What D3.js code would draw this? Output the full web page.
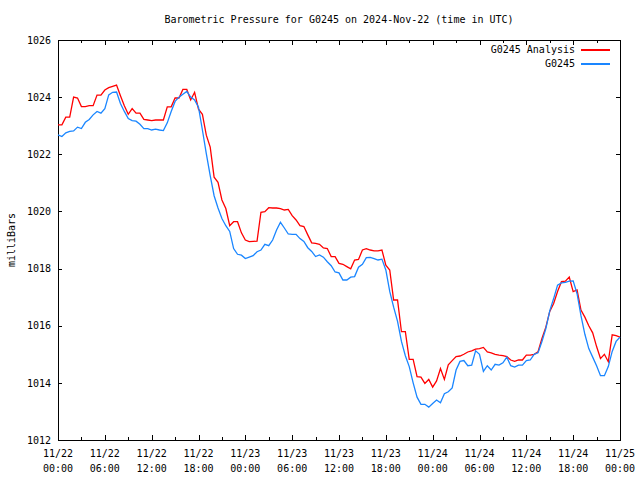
<!DOCTYPE html>
<html>
<head>
<meta charset="utf-8">
<script src="https://cdn.jsdelivr.net/npm/d3@7"></script>
<style>
  html, body { margin: 0; padding: 0; background: #fff; }
  svg text { font-family: "DejaVu Sans Mono", monospace; font-size: 10px; fill: #000; }
</style>
</head>
<body>
<svg id="chart" width="640" height="480"></svg>
<script>
// ---- data (half-hourly, starting 2024-11-22 00:00 UTC) ----
const title = "Barometric Pressure for G0245 on 2024-Nov-22 (time in UTC)";
const yLabel = "milliBars";
const seriesNames = ["G0245 Analysis", "G0245"];
const seriesColors = ["#ff0000", "#1a86ff"];
const startTime = Date.UTC(2024, 10, 22, 0, 0);
const stepMinutes = 30;

const analysis = [
  1023.03,1023.03,1023.30,1023.30,1024.00,1023.97,1023.67,1023.67,1023.70,1023.70,
  1024.07,1024.07,1024.25,1024.33,1024.38,1024.42,1024.05,1023.70,1023.40,1023.60,
  1023.44,1023.44,1023.22,1023.20,1023.18,1023.20,1023.20,1023.20,1023.66,1023.66,
  1023.97,1023.97,1024.27,1024.27,1023.90,1024.17,1023.58,1023.40,1022.67,1022.25,
  1021.20,1021.02,1020.40,1020.10,1019.50,1019.64,1019.64,1019.25,1019.00,1018.94,
  1018.95,1018.96,1019.97,1019.99,1020.13,1020.12,1020.12,1020.10,1020.05,1020.07,
  1019.85,1019.70,1019.50,1019.47,1019.18,1018.90,1018.88,1018.85,1018.72,1018.70,
  1018.42,1018.42,1018.18,1018.15,1018.07,1017.99,1018.30,1018.32,1018.65,1018.70,
  1018.65,1018.62,1018.62,1018.65,1018.12,1017.95,1016.90,1016.90,1015.79,1015.79,
  1014.82,1014.82,1014.22,1014.20,1013.98,1014.12,1013.85,1014.07,1014.50,1014.12,
  1014.63,1014.78,1014.92,1014.94,1015.00,1015.08,1015.12,1015.18,1015.20,1015.24,
  1015.08,1015.05,1015.00,1014.97,1014.95,1014.92,1014.80,1014.75,1014.80,1014.80,
  1014.97,1014.97,1015.00,1015.09,1015.55,1015.95,1016.50,1016.78,1017.20,1017.54,
  1017.56,1017.70,1017.19,1017.25,1016.55,1016.30,1016.00,1015.75,1015.27,1014.85,
  1015.00,1014.74,1015.68,1015.65,1015.60
];

const observed = [
  1022.68,1022.62,1022.75,1022.80,1022.82,1022.95,1022.90,1023.12,1023.22,1023.38,
  1023.50,1023.44,1023.60,1024.08,1024.17,1024.18,1023.78,1023.50,1023.25,1023.18,
  1023.16,1023.05,1022.90,1022.90,1022.85,1022.88,1022.85,1022.83,1023.10,1023.50,
  1023.85,1024.00,1024.10,1024.20,1024.00,1023.90,1023.65,1022.85,1022.02,1021.25,
  1020.55,1020.12,1019.75,1019.50,1019.30,1018.70,1018.50,1018.47,1018.35,1018.40,
  1018.45,1018.59,1018.65,1018.85,1018.80,1019.00,1019.35,1019.62,1019.42,1019.21,
  1019.20,1019.20,1019.05,1018.95,1018.73,1018.60,1018.42,1018.48,1018.40,1018.24,
  1018.10,1017.88,1017.85,1017.60,1017.60,1017.70,1017.72,1018.05,1018.15,1018.38,
  1018.39,1018.35,1018.30,1018.33,1017.95,1017.20,1016.65,1016.15,1015.45,1014.95,
  1014.57,1014.00,1013.50,1013.25,1013.25,1013.15,1013.28,1013.40,1013.30,1013.62,
  1013.69,1013.82,1014.45,1014.75,1014.78,1014.60,1014.62,1015.12,1015.00,1014.40,
  1014.60,1014.45,1014.65,1014.62,1014.70,1014.90,1014.60,1014.55,1014.62,1014.62,
  1014.78,1014.80,1015.00,1015.05,1015.45,1015.90,1016.52,1016.95,1017.42,1017.50,
  1017.52,1017.56,1017.57,1017.12,1016.35,1015.70,1015.20,1014.90,1014.60,1014.25,
  1014.25,1014.57,1015.10,1015.45,1015.60
];

const yTicks = [1012, 1014, 1016, 1018, 1020, 1022, 1024, 1026];
const xTickDates = ["11/22","11/22","11/22","11/22","11/23","11/23","11/23","11/23","11/24","11/24","11/24","11/24","11/25"];
const xTickTimes = ["00:00","06:00","12:00","18:00","00:00","06:00","12:00","18:00","00:00","06:00","12:00","18:00","00:00"];
const xTickHours = [0, 6, 12, 18, 24, 30, 36, 42, 48, 54, 60, 66, 72];
const xMinorHours = [3, 9, 15, 21, 27, 33, 39, 45, 51, 57, 63, 69];

// ---- layout ----
const W = 640, H = 480;
const m = { left: 58, right: 20, top: 40, bottom: 40 };
const HOUR = 3600 * 1000;
const svg = d3.select("#chart");

const x = d3.scaleUtc()
  .domain([new Date(startTime), new Date(startTime + 72 * HOUR)])
  .range([m.left, W - m.right]);
const y = d3.scaleLinear().domain([1012, 1026]).range([H - m.bottom, m.top]);

const toDate = h => new Date(startTime + h * HOUR);
const majorDates = xTickHours.map(toDate);
const minorDates = xMinorHours.map(toDate);

function styleAxis(g) {
  g.select(".domain").remove();
  g.selectAll("line").attr("stroke", "#000").attr("shape-rendering", "crispEdges");
}

// x axes (bottom & top, ticks inward)
svg.append("g").attr("transform", `translate(0,${H - m.bottom})`)
  .call(d3.axisBottom(x).tickValues(majorDates).tickSizeInner(-5).tickSizeOuter(0).tickFormat(""))
  .call(styleAxis);
svg.append("g").attr("transform", `translate(0,${H - m.bottom})`)
  .call(d3.axisBottom(x).tickValues(minorDates).tickSizeInner(-3).tickSizeOuter(0).tickFormat(""))
  .call(styleAxis);
svg.append("g").attr("transform", `translate(0,${m.top})`)
  .call(d3.axisTop(x).tickValues(majorDates).tickSizeInner(-5).tickSizeOuter(0).tickFormat(""))
  .call(styleAxis);
svg.append("g").attr("transform", `translate(0,${m.top})`)
  .call(d3.axisTop(x).tickValues(minorDates).tickSizeInner(-3).tickSizeOuter(0).tickFormat(""))
  .call(styleAxis);

// y axes (left with labels, right mirrored)
const yl = svg.append("g").attr("transform", `translate(${m.left},0)`)
  .call(d3.axisLeft(y).tickValues(yTicks).tickSizeInner(-4).tickSizeOuter(0).tickPadding(7).tickFormat(d3.format("d")))
  .call(styleAxis);
yl.selectAll("text").attr("font-family", "DejaVu Sans Mono").attr("font-size", 10).attr("fill", "#000");
svg.append("g").attr("transform", `translate(${W - m.right},0)`)
  .call(d3.axisRight(y).tickValues(yTicks).tickSizeInner(-4).tickSizeOuter(0).tickFormat(""))
  .call(styleAxis);

// x tick labels (two lines)
const xl = svg.append("g").selectAll("text").data(xTickHours).join("text")
  .attr("text-anchor", "middle")
  .attr("x", (d) => x(toDate(d)));
xl.append("tspan").attr("y", H - m.bottom + 17).attr("x", d => x(toDate(d))).text((d, i) => xTickDates[i]);
xl.append("tspan").attr("y", H - m.bottom + 32).attr("x", d => x(toDate(d))).text((d, i) => xTickTimes[i]);

// border
svg.append("rect")
  .attr("x", m.left + 0.5).attr("y", m.top + 0.5)
  .attr("width", W - m.left - m.right).attr("height", H - m.top - m.bottom)
  .attr("fill", "none").attr("stroke", "#000").attr("shape-rendering", "crispEdges");

// lines
const line = d3.line()
  .x((d, i) => x(new Date(startTime + i * stepMinutes * 60000)))
  .y(d => y(d));
[analysis, observed].forEach((vals, k) => {
  svg.append("path").datum(vals)
    .attr("d", line)
    .attr("fill", "none")
    .style("stroke", seriesColors[k])
    .attr("stroke-width", 1.3);
});

// title & y label
svg.append("text").attr("x", (m.left + W - m.right) / 2).attr("y", 23)
  .attr("text-anchor", "middle").text(title);
svg.append("text").attr("transform", `translate(15,${(m.top + H - m.bottom) / 2}) rotate(-90)`)
  .attr("text-anchor", "middle").text(yLabel);

// legend
const lg = svg.append("g");
seriesNames.forEach((name, k) => {
  const cy = 49 + k * 14;
  lg.append("text").attr("x", 575).attr("y", cy + 3.5).attr("text-anchor", "end").text(name);
  lg.append("rect").attr("x", 581).attr("y", cy).attr("width", 29).attr("height", 2)
    .style("fill", seriesColors[k]);
});
</script>
</body>
</html>
